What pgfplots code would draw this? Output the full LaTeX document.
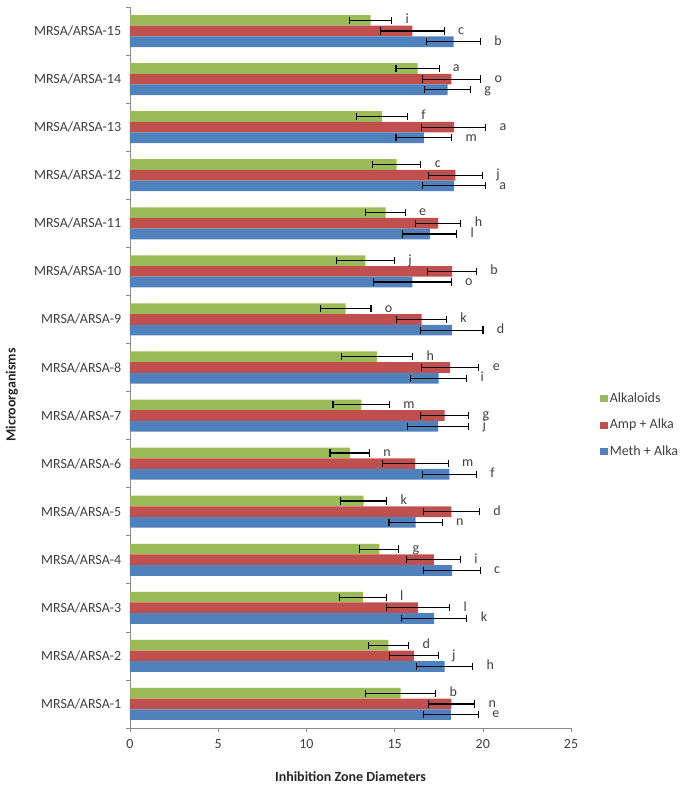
\documentclass[border=0pt]{standalone}
\usepackage{pgfplots}
\pgfplotsset{compat=1.18}
\usepackage{pgfplotstable}
\usepackage{fontspec}
\setmainfont{Carlito}
\definecolor{cgreen}{HTML}{9BBB59}
\definecolor{cred}{HTML}{C0504D}
\definecolor{cblue}{HTML}{4F81BD}
\definecolor{ctext}{HTML}{404040}
\pgfplotstableread{
y alk alke alkl amp ampe ampl meth methe methl
1 15.34 2.00 b 18.22 1.32 n 18.19 1.56 e
2 14.65 1.15 d 16.09 1.38 j 17.83 1.60 h
3 13.20 1.33 l 16.32 1.80 l 17.24 1.86 k
4 14.13 1.10 g 17.22 1.52 i 18.26 1.60 c
5 13.24 1.31 k 18.22 1.60 d 16.19 1.51 n
6 12.46 1.12 n 16.17 1.87 m 18.11 1.54 f
7 13.11 1.60 m 17.83 1.38 g 17.47 1.73 j
8 14.00 2.03 h 18.15 1.63 e 17.49 1.60 i
9 12.22 1.44 o 16.53 1.41 k 18.24 1.77 d
10 13.35 1.64 j 18.26 1.38 b 16.01 2.20 o
11 14.49 1.12 e 17.47 1.29 h 17.00 1.53 l
12 15.11 1.38 c 18.45 1.53 j 18.36 1.80 a
13 14.28 1.45 f 18.36 1.81 a 16.66 1.58 m
14 16.30 1.22 a 18.22 1.66 o 18.00 1.31 g
15 13.64 1.20 i 16.01 1.80 c 18.34 1.53 b
}\datatable
\begin{document}
\fontsize{14pt}{16pt}\selectfont
\begin{tikzpicture}
\begin{axis}[
  at={(0,0)}, anchor=south west,
  scale only axis, width=441pt, height=721pt,
  xmin=0, xmax=25, ymin=0.5, ymax=15.5,
  axis x line*=bottom, axis y line*=left,
  axis line style={draw=black!45,-},
  tick style={draw=black!45, line width=0.6pt},
  tick align=outside,
  major tick length=4pt,
  xtick={0,5,...,25},
  ytick={0.5,1.5,...,15.5}, yticklabels={},
  extra y ticks={1,...,15},
  extra y tick labels={MRSA/ARSA-1,MRSA/ARSA-2,MRSA/ARSA-3,MRSA/ARSA-4,MRSA/ARSA-5,MRSA/ARSA-6,MRSA/ARSA-7,MRSA/ARSA-8,MRSA/ARSA-9,MRSA/ARSA-10,MRSA/ARSA-11,MRSA/ARSA-12,MRSA/ARSA-13,MRSA/ARSA-14,MRSA/ARSA-15},
  extra y tick style={major tick length=0pt, yticklabel style={xshift=-4pt}},
  /pgf/number format/assume math mode=true,
  ticklabel style={font=\fontsize{14pt}{16pt}\selectfont, text=ctext},
  xticklabel style={yshift=-3pt},
  xlabel={\textbf{Inhibition Zone Diameters}},
  xlabel style={font=\fontsize{14pt}{16pt}\selectfont, text=black!85, at={(axis description cs:0.5,0)}, anchor=center, yshift=-49pt},
  ylabel={\textbf{Microorganisms}},
  ylabel style={font=\fontsize{14pt}{16pt}\selectfont, text=black!85, at={(axis description cs:-0.2676,0.462)}, anchor=center},
  legend style={draw=none, fill=none, at={(axis description cs:1.066,0.42)}, anchor=west,
    font=\fontsize{14pt}{16pt}\selectfont, text=ctext, row sep=10.5pt, inner sep=0pt},
  legend cell align=left,
  legend image code/.code={\fill[#1] (0pt,-3.5pt) rectangle (7.5pt,3.5pt);},
  error bars/error bar style={line width=1.1pt, black},
  error bars/error mark options={rotate=90, mark size=3.6pt, line width=1.1pt, black},
  nodes near coords style={font=\fontsize{14pt}{16pt}\selectfont, text=ctext, anchor=mid west, xshift=9pt, inner ysep=0pt},
]
\addplot[xbar, bar width=0.222, bar shift=0.222, fill=cgreen, draw=none]
  table[x=alk, y=y]{\datatable};
\addlegendentry{Alkaloids}
\addplot[xbar, bar width=0.222, bar shift=0, fill=cred, draw=none]
  table[x=amp, y=y]{\datatable};
\addlegendentry{Amp + Alka}
\addplot[xbar, bar width=0.222, bar shift=-0.222, fill=cblue, draw=none]
  table[x=meth, y=y]{\datatable};
\addlegendentry{Meth + Alka}
% error bars
\addplot[forget plot, draw=none, mark=none, error bars/.cd, x dir=both, x explicit]
  table[x=alk, y expr=\thisrow{y}+0.222, x error=alke]{\datatable};
\addplot[forget plot, draw=none, mark=none, error bars/.cd, x dir=both, x explicit]
  table[x=amp, y=y, x error=ampe]{\datatable};
\addplot[forget plot, draw=none, mark=none, error bars/.cd, x dir=both, x explicit]
  table[x=meth, y expr=\thisrow{y}-0.222, x error=methe]{\datatable};
% significance letters
\addplot[forget plot, draw=none, mark=none, nodes near coords, point meta=explicit symbolic]
  table[x expr=\thisrow{alk}+\thisrow{alke}, y expr=\thisrow{y}+0.222, meta=alkl]{\datatable};
\addplot[forget plot, draw=none, mark=none, nodes near coords, point meta=explicit symbolic]
  table[x expr=\thisrow{amp}+\thisrow{ampe}, y=y, meta=ampl]{\datatable};
\addplot[forget plot, draw=none, mark=none, nodes near coords, point meta=explicit symbolic]
  table[x expr=\thisrow{meth}+\thisrow{methe}, y expr=\thisrow{y}-0.222, meta=methl]{\datatable};
\end{axis}
\pgfresetboundingbox
\path[use as bounding box] (-130pt,-61pt) rectangle (555pt,728pt);
\end{tikzpicture}
\end{document}
